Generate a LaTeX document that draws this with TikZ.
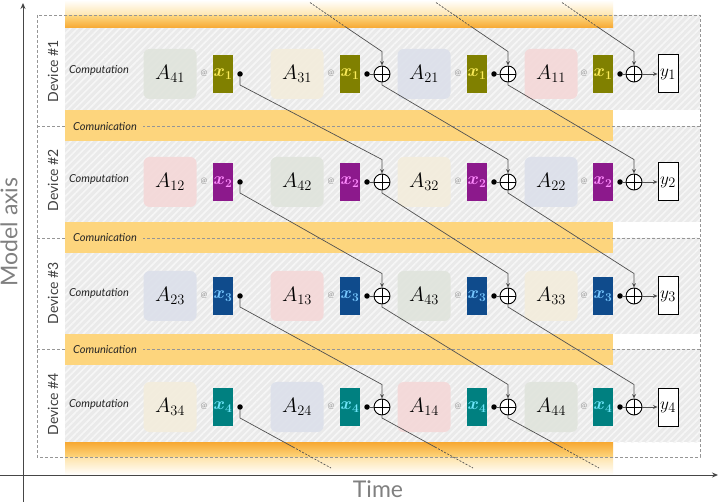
\documentclass[tikz,border=0pt]{standalone}
\usepackage{fontspec}
\setmainfont{Lato}
\setsansfont{Lato}
\usetikzlibrary{arrows.meta,calc,patterns.meta}
\definecolor{bandO}{RGB}{253,213,125}
\definecolor{deepO}{RGB}{247,168,50}
\definecolor{hatchbg}{RGB}{234,234,234}
\definecolor{hatchln}{RGB}{246,246,246}
\definecolor{ac1}{RGB}{244,216,216}
\definecolor{ac2}{RGB}{220,224,234}
\definecolor{ac3}{RGB}{243,237,220}
\definecolor{ac4}{RGB}{224,228,220}
\definecolor{xc1}{RGB}{128,128,0}
\definecolor{xt1}{RGB}{250,235,90}
\definecolor{xc2}{RGB}{140,25,140}
\definecolor{xt2}{RGB}{255,140,255}
\definecolor{xc3}{RGB}{15,75,140}
\definecolor{xt3}{RGB}{120,200,255}
\definecolor{xc4}{RGB}{0,128,128}
\definecolor{xt4}{RGB}{110,230,250}
\definecolor{lnc}{RGB}{80,80,80}
\definecolor{dashc}{RGB}{150,150,150}
\definecolor{axc}{RGB}{70,70,70}

\newcommand{\devrow}[6]{%
 \node[abox,fill=ac#3] (A-#1-0) at (170,#2) {$A_{#3#1}$};
 \node[abox,fill=ac#4] (A-#1-1) at (297,#2) {$A_{#4#1}$};
 \node[abox,fill=ac#5] (A-#1-2) at (424,#2) {$A_{#5#1}$};
 \node[abox,fill=ac#6] (A-#1-3) at (551,#2) {$A_{#6#1}$};
 \foreach \k/\xx in {0/223,1/350,2/477,3/603} {
   \node[atn] (at-#1-\k) at (\xx-19,#2-1) {@};
   \node[xbox,fill=xc#1,text=xt#1] (X-#1-\k) at (\xx,#2) {$\boldsymbol{x_{#1}}$};
   \node[dotn] (D-#1-\k) at (\xx+17,#2) {};
 }
 \node[plusn] (P-#1-1) at (382,#2) {};
 \node[plusn] (P-#1-2) at (508,#2) {};
 \node[plusn] (P-#1-3) at (634,#2) {};
 \node[ybox] (Y-#1) at (668,#2) {$y_{#1}$};
 \foreach \k in {1,2,3} {\draw[conn] (D-#1-\k) -- (P-#1-\k.west);}
 \draw[conn,arrowend] (P-#1-3.east) -- (Y-#1.west);
}
\newcommand{\crossconn}[2]{%
 \draw[conn,arrowend] (#1.south) -- ($(#1)+(0,11)$) -- ($(#2.north)+(0,-14)$) -- (#2.north);
}
\usepackage{amsmath}
\usepackage{bm}
\renewcommand{\boldsymbol}[1]{\bm{#1}}

\begin{document}
\begin{tikzpicture}[x=1pt,y=-1pt,
 abox/.style={rounded corners=6pt, minimum width=53pt, minimum height=50pt, inner sep=0pt, fill opacity=0.9, text opacity=1, font=\fontsize{22}{24}\selectfont, text=black},
 xbox/.style={minimum width=20pt, minimum height=38pt, inner sep=0pt, font=\fontsize{17}{18}\selectfont},
 ybox/.style={draw=black, line width=1pt, fill=white, minimum width=20pt, minimum height=38pt, inner sep=0pt, font=\fontsize{19}{20}\selectfont},
 dotn/.style={circle, fill=black, minimum size=5.5pt, inner sep=0pt},
 plusn/.style={circle, draw=black, line width=0.9pt, fill=white, minimum size=16pt, inner sep=0pt,
   path picture={\draw[line width=0.9pt] (path picture bounding box.north) -- (path picture bounding box.south) (path picture bounding box.west) -- (path picture bounding box.east);}},
 atn/.style={font=\fontsize{8}{9}\selectfont, text=black!40, inner sep=0pt},
 conn/.style={draw=lnc, line width=0.7pt},
 arrowend/.style={-{Stealth[length=4.5pt,width=4pt]}},
 dashline/.style={draw=dashc, line width=0.8pt, dash pattern=on 3pt off 2pt},
 fadeline/.style={draw=lnc, line width=0.7pt, dash pattern=on 2pt off 1.5pt},
 compn/.style={font=\fontsize{11}{12}\selectfont\itshape, text=black!85, inner sep=0pt},
 commn/.style={font=\fontsize{11}{12}\selectfont\itshape, text=black!85, fill=bandO, inner xsep=6pt, inner ysep=1pt},
 devn/.style={rotate=90, font=\fontsize{14}{15}\selectfont, text=black!75, inner sep=0pt},
 axlabel/.style={font=\fontsize{23}{25}\selectfont, text=black!50, inner sep=0pt},
 axline/.style={draw=axc, line width=0.9pt}]
\useasboundingbox (0,0) rectangle (720,502);
\fill[white] (0,0) rectangle (720,502);

% hatched computation areas
\foreach \t/\b in {15/110, 126.5/222, 238/334, 349.5/442} {
  \fill[hatchbg] (65,\t) rectangle (700,\b);
  \fill[pattern={Lines[angle=45,distance=5pt,line width=1.7pt]}, pattern color=hatchln] (65,\t) rectangle (700,\b);
}
% orange bands
\shade[top color=white, bottom color=bandO!65] (65,0) rectangle (613,16);
\shade[top color=bandO, bottom color=deepO] (65,16) rectangle (613,28);
\fill[bandO] (65,110) rectangle (613,141);
\fill[bandO] (65,222) rectangle (613,253);
\fill[bandO] (65,334) rectangle (613,365);
\shade[top color=deepO, bottom color=bandO] (65,442) rectangle (613,457);
\shade[top color=bandO!65, bottom color=white] (65,457) rectangle (613,475);

% dashed device frames
\draw[dashline] (37,15) rectangle (700,457);
\draw[dashline] (37,126.5) -- (700,126.5);
\draw[dashline] (37,238) -- (700,238);
\draw[dashline] (37,349.5) -- (700,349.5);

% labels
\node[commn] (cm1) at (105,126.5) {Comunication};
\node[commn] (cm2) at (105,238) {Comunication};
\node[commn] (cm3) at (105,349.5) {Comunication};
\node[compn] (cp1) at (99,70) {Computation};
\node[compn] (cp2) at (99,179) {Computation};
\node[compn] (cp3) at (99,293) {Computation};
\node[compn] (cp4) at (99,404) {Computation};
\node[devn] (dv1) at (53,71) {Device \#1};
\node[devn] (dv2) at (53,180) {Device \#2};
\node[devn] (dv3) at (53,293) {Device \#3};
\node[devn] (dv4) at (53,404) {Device \#4};

% axes
\coordinate (yb) at (23,502);
\coordinate (yt) at (23,3);
\coordinate (xl) at (0,475);
\coordinate (xr) at (718,475);
\draw[axline,-{Stealth[length=6pt,width=5pt]}] (yb) -- (yt);
\draw[axline,-{Stealth[length=6pt,width=5pt]}] (xl) -- (xr);
\node[axlabel,rotate=90] (mlab) at (9,232) {Model axis};
\node[axlabel] (tlab) at (378,489) {Time};

% device rows
\devrow{1}{74}{4}{3}{2}{1}
\devrow{2}{182}{1}{4}{3}{2}
\devrow{3}{296}{2}{1}{4}{3}
\devrow{4}{407}{3}{2}{1}{4}

% cross-device connections
\foreach \i/\j in {1/2,2/3,3/4} {
  \crossconn{D-\i-0}{P-\j-1}
  \crossconn{P-\i-1}{P-\j-2}
  \crossconn{P-\i-2}{P-\j-3}
}
% wrap-around: outgoing from device 4
\foreach \s in {D-4-0,P-4-1,P-4-2} {
  \coordinate (\s-m) at ($(\s)+(53,40)$);
  \coordinate (\s-e) at ($(\s)+(91,61)$);
  \draw[conn] (\s.south) -- ($(\s)+(0,11)$) -- (\s-m);
  \draw[fadeline] (\s-m) -- (\s-e);
}
% wrap-around: incoming into device 1
\foreach \t in {P-1-1,P-1-2,P-1-3} {
  \coordinate (\t-s) at ($(\t.north)+(-72,-63)$);
  \coordinate (\t-m) at ($(\t.north)+(-37,-39)$);
  \draw[fadeline] (\t-s) -- (\t-m);
  \draw[conn,arrowend] (\t-m) -- ($(\t.north)+(0,-14)$) -- (\t.north);
}
\end{tikzpicture}
\end{document}
